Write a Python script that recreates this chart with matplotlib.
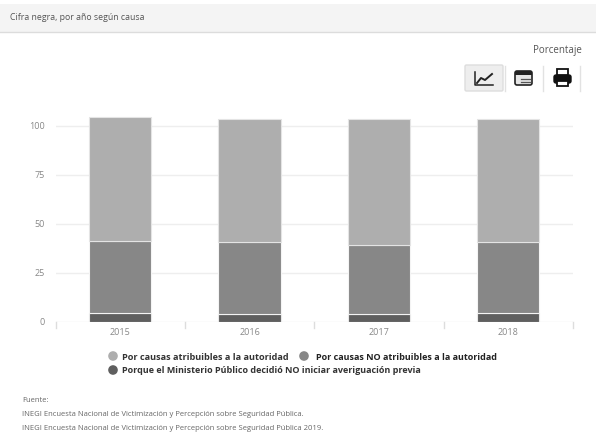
import matplotlib
matplotlib.use('Agg')
import matplotlib.pyplot as plt
from matplotlib.patches import Rectangle, FancyBboxPatch

plt.rcParams['font.family'] = ['Open Sans', 'DejaVu Sans']

anios = ['2015', '2016', '2017', '2018']
ministerio = [4.5, 3.8, 3.8, 4.5]
no_atribuibles = [36.5, 36.9, 35.2, 36.2]
atribuibles = [63.4, 62.7, 64.2, 62.7]
ticks_y = [0, 25, 50, 75, 100]

leyenda = ['Por causas atribuibles a la autoridad',
           'Por causas NO atribuibles a la autoridad',
           'Porque el Ministerio Público decidió NO iniciar averiguación previa']
fuentes = ['Fuente:',
           'INEGI Encuesta Nacional de Victimización y Percepción sobre Seguridad Pública.',
           'INEGI Encuesta Nacional de Victimización y Percepción sobre Seguridad Pública 2019.']

C_CLARO = '#aeaeae'
C_MEDIO = '#878787'
C_OSCURO = '#5f5f5f'

W, H = 596, 432
fig = plt.figure(figsize=(W / 100, H / 100), dpi=100)

# capa en pixeles para la banda, botones, leyenda y notas
capa = fig.add_axes([0, 0, 1, 1])
capa.set_xlim(0, W)
capa.set_ylim(H, 0)
capa.axis('off')

capa.add_patch(Rectangle((0, 4), W, 28, fc='#f4f4f4', ec='none'))
capa.plot([0, W], [32, 32], color='#dcdcdc', lw=1)
capa.text(10, 17, 'Cifra negra, por año según causa', fontsize=6.3, color='#555555', va='center')
capa.text(582, 50, 'Porcentaje', fontsize=7, color='#555555', va='center', ha='right')

# botones
capa.add_patch(FancyBboxPatch((465, 65), 38, 26, boxstyle='round,pad=0,rounding_size=1.5',
                              fc='#eeeeee', ec='#dddddd', lw=1))
for x in [505, 543, 580]:
    capa.plot([x, x], [66, 91], color='#e2e2e2', lw=1)
capa.plot([475, 475, 493], [72, 85, 85], color='#222222', lw=1.1)
capa.plot([477, 481, 485, 492], [83, 78, 80, 74], color='#222222', lw=1.4)
capa.add_patch(FancyBboxPatch((515, 71), 17, 14, boxstyle='round,pad=0,rounding_size=2',
                              fc='#e6e6e6', ec='#222222', lw=1.2))
capa.add_patch(Rectangle((515, 71), 17, 4, fc='#222222', ec='none'))
capa.plot([521, 530], [78.5, 78.5], color='#555555', lw=0.9)
capa.plot([521, 530], [82, 82], color='#555555', lw=0.9)
capa.add_patch(FancyBboxPatch((554, 75), 17, 8, boxstyle='round,pad=0,rounding_size=2',
                              fc='#111111', ec='#111111', lw=1))
capa.add_patch(Rectangle((557, 69), 11, 6, fc='white', ec='#111111', lw=1.3))
capa.add_patch(Rectangle((557, 81), 11, 5, fc='white', ec='#111111', lw=1.3))

# leyenda
capa.scatter([113, 304, 113], [356, 356, 370], s=48, c=[C_CLARO, C_MEDIO, C_OSCURO], linewidths=0)
capa.text(122, 357, leyenda[0], fontsize=6.6, fontweight='bold', color='#333333', va='center')
capa.text(316, 357, leyenda[1], fontsize=6.45, fontweight='bold', color='#222222', va='center')
capa.text(122, 370.5, leyenda[2], fontsize=6.5, fontweight='bold', color='#333333', va='center')

# notas
for y, linea in zip([400, 415, 429], fuentes):
    capa.text(22, y, linea, fontsize=5.5, color='#666666', va='center')

# grafica
x0, x1 = 55.5, 573
y_100, y_0 = 125.7, 321.5
ymax = 110
alto = (y_0 - y_100) / 100 * ymax
ax = fig.add_axes([x0 / W, (H - y_0) / H, (x1 - x0) / W, alto / H])
ax.patch.set_alpha(0)
ax.set_xlim(-0.5, 3.5)
ax.set_ylim(0, ymax)

pos = range(len(anios))
base2 = ministerio
base3 = [a + b for a, b in zip(ministerio, no_atribuibles)]
ax.bar(pos, ministerio, width=0.482, color=C_OSCURO, edgecolor='#e8e8e8', linewidth=0.8, zorder=3)
ax.bar(pos, no_atribuibles, width=0.482, bottom=base2, color=C_MEDIO, edgecolor='#f4f4f4', linewidth=0.8, zorder=3)
ax.bar(pos, atribuibles, width=0.482, bottom=base3, color=C_CLARO, edgecolor='#e4e4e4', linewidth=0.8, zorder=3)

for s in ax.spines.values():
    s.set_visible(False)
ax.set_yticks(ticks_y)
ax.tick_params(axis='y', length=0, labelsize=6.5, labelcolor='#888888', pad=7.5)
ax.yaxis.grid(True, color='#eeeeee', lw=1)
ax.set_axisbelow(True)
ax.set_xticks(list(pos))
ax.set_xticklabels(anios)
ax.tick_params(axis='x', length=0, labelsize=6.5, labelcolor='#888888', pad=4.5)
for x in [-0.5, 0.5, 1.5, 2.5, 3.5]:
    ax.plot([x, x], [-3.5, 0], color='#dddddd', lw=1, clip_on=False)

fig.savefig('out.png', dpi=100)
